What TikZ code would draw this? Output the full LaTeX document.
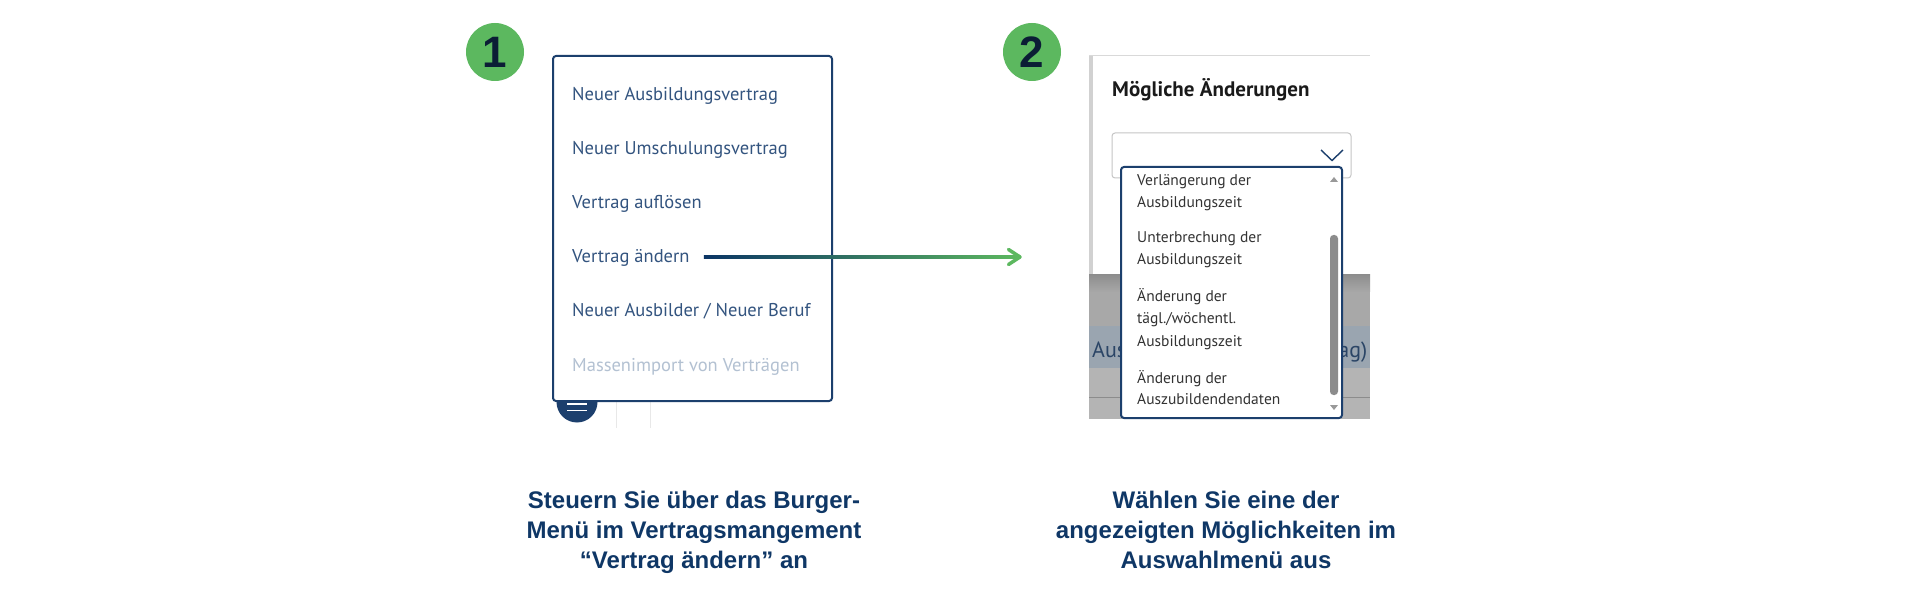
\documentclass[tikz,border=0pt]{standalone}
\usepackage{fontspec}
\setmainfont{PT Sans}
\newfontfamily\capfont{Liberation Sans}
\usetikzlibrary{calc}
\definecolor{navyC}{HTML}{0F3766}
\definecolor{menuB}{HTML}{1C3F6D}
\definecolor{itemT}{HTML}{33547F}
\definecolor{fadedT}{HTML}{B3C1D2}
\definecolor{greenC}{HTML}{5CB85F}
\definecolor{numT}{HTML}{0B1D35}
\definecolor{listT}{HTML}{333333}
\definecolor{titleT}{HTML}{1A1A1A}
\definecolor{arrowN}{HTML}{0B3565}
\definecolor{grayA}{HTML}{B4B4B4}
\definecolor{grayB}{HTML}{A8A8A8}
\definecolor{grayS}{HTML}{8E8E8E}
\definecolor{bandC}{HTML}{9AA5B0}
\definecolor{lineC}{HTML}{8C8C8C}
\definecolor{selB}{HTML}{C6C6C6}
\definecolor{thumbC}{HTML}{8C8C8C}
\definecolor{bgT}{HTML}{2B4566}
\tikzset{
  numcircle/.style={circle, fill=greenC, minimum size=58pt, inner sep=0pt, text=numT,
    font=\capfont\bfseries\fontsize{44}{44}\selectfont},
  menuitem/.style={anchor=base west, inner sep=0pt, text=itemT, font=\fontsize{18.5}{22}\selectfont},
  fadeditem/.style={menuitem, text=fadedT},
  listitem/.style={anchor=base west, inner sep=0pt, text=listT, font=\fontsize{15.5}{20}\selectfont},
  capline/.style={anchor=base, inner sep=0pt, text=navyC, font=\capfont\bfseries\fontsize{24}{30}\selectfont},
  panelbox/.style={draw=menuB, line width=2pt, fill=white, rounded corners=3pt},
  bgtext/.style={inner sep=0pt, text=bgT, font=\fontsize{22}{24}\selectfont},
}
\begin{document}
\begin{tikzpicture}[x=1pt,y=-1pt]
\useasboundingbox[fill=white] (0,0) rectangle (1920,612);

% ---------- step 1 ----------
\node[numcircle] (n1) at (495,52) {1};

% burger button behind the menu
\fill[menuB] (577,402) circle (20.5);
\draw[white, line width=1.6pt] (567,404) -- (587,404);
\draw[white, line width=1.6pt] (567,410.5) -- (587,410.5);
\draw[black!9, line width=1pt] (616,401) -- (616,428);
\draw[black!9, line width=1pt] (650,401) -- (650,428);

\draw[panelbox] (553,56) rectangle (832,401);
\node[menuitem] (m1) at (572,101) {Neuer Ausbildungsvertrag};
\node[menuitem] (m2) at (572,155) {Neuer Umschulungsvertrag};
\node[menuitem] (m3) at (572,209) {Vertrag auflösen};
\node[menuitem] (va) at (572,263) {Vertrag ändern};
\node[menuitem] (m5) at (572,317) {Neuer Ausbilder / Neuer Beruf};
\node[fadeditem] (m6) at (572,371) {Massenimport von Verträgen};

% ---------- arrow ----------
\coordinate (tip) at (1020,257);
\shade[left color=arrowN, right color=greenC]
  ($(va.east |- tip)+(14,-1.8)$) rectangle ($(tip)+(-1.5,1.8)$);
\draw[greenC, line width=3.5pt, line cap=round, line join=round]
  ($(tip)+(-11.5,-7.5)$) -- (tip) -- ($(tip)+(-11.5,7.5)$);

% ---------- step 2 ----------
\node[numcircle] (n2) at (1032,52) {2};

\begin{scope}
  \clip (1089,55) rectangle (1370,419);
  \fill[grayA] (1089,55) rectangle (1370,419);
  \fill[black!18] (1089,55) rectangle (1093,275);
  \fill[white] (1093,56.5) rectangle (1372,275);
  \draw[black!15, line width=1.2pt] (1089,55.6) -- (1370,55.6);
  \shade[top color=grayS, bottom color=grayB] (1089,275) rectangle (1370,292);
  \fill[grayB] (1089,292) rectangle (1370,326);
  \fill[bandC] (1089,326) rectangle (1370,368);
  \draw[lineC, line width=1pt] (1089,397) -- (1370,397);
  \node[bgtext, anchor=base west] (bg1) at (1092,357) {Aus};
  \node[bgtext, anchor=base east] (bg2) at (1367.5,357) {ag)};
\end{scope}

\node[anchor=base west, inner sep=0pt, text=titleT, font=\bfseries\fontsize{21}{24}\selectfont] (title) at (1112,97) {Mögliche Änderungen};
\draw[selB, line width=1pt, rounded corners=3pt] (1112,133) rectangle (1351,178);
\draw[menuB, line width=1.4pt] (1321,150) -- (1332,160.5) -- (1343,150);

\draw[panelbox] (1121,167) rectangle (1342,418);
% scrollbar
\fill[black!40] (1330,182) -- (1338,182) -- (1334,177) -- cycle;
\fill[black!40] (1330,405) -- (1338,405) -- (1334,410) -- cycle;
\fill[thumbC, rounded corners=3.5pt] (1330,235) rectangle (1338,395);

\node[listitem] (l1a) at (1137,186) {Verlängerung der};
\node[listitem] (l1b) at (1137,207.5) {Ausbildungszeit};
\node[listitem] (l2a) at (1137,243) {Unterbrechung der};
\node[listitem] (l2b) at (1137,265) {Ausbildungszeit};
\node[listitem] (l3a) at (1137,302) {Änderung der};
\node[listitem] (l3b) at (1137,324) {tägl./wöchentl.};
\node[listitem] (l3c) at (1137,346) {Ausbildungszeit};
\node[listitem] (l4a) at (1137,383) {Änderung der};
\node[listitem] (l4b) at (1137,404) {Auszubildendendaten};

% ---------- captions ----------
\node[capline] (c1a) at (694,508) {Steuern Sie über das Burger-};
\node[capline] (c1b) at (694,538) {Menü im Vertragsmangement};
\node[capline] (c1c) at (694,568) {“Vertrag ändern” an};
\node[capline] (c2a) at (1226,508) {Wählen Sie eine der};
\node[capline] (c2b) at (1226,538) {angezeigten Möglichkeiten im};
\node[capline] (c2c) at (1226,568) {Auswahlmenü aus};
\end{tikzpicture}
\end{document}
